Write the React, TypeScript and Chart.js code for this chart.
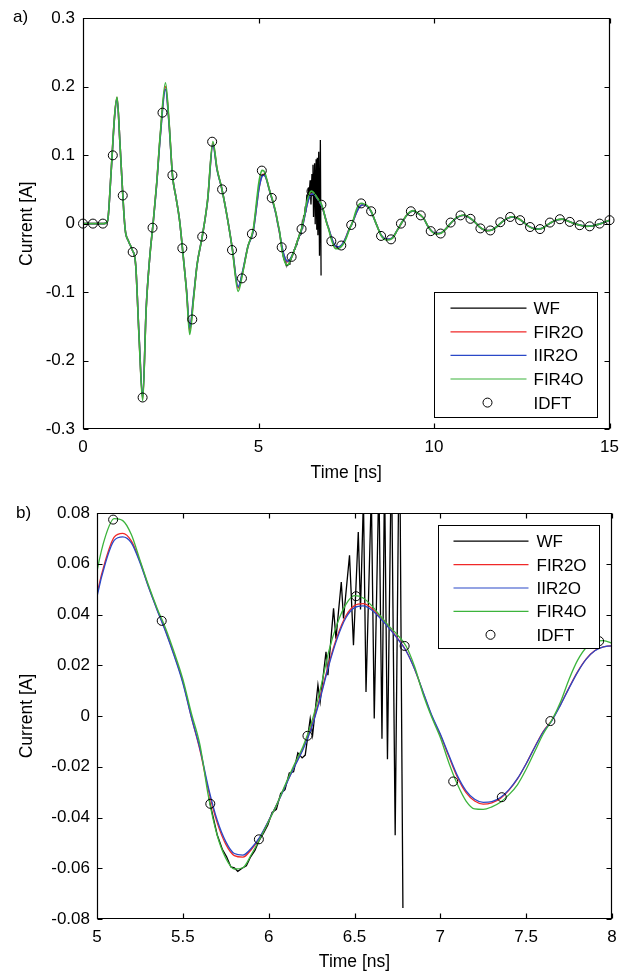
import React, { useEffect, useRef } from 'react';
import { Chart, registerables } from 'chart.js';

Chart.register(...registerables);

const FONT = "'Liberation Sans', Arial, Helvetica, sans-serif";

// ---------- data (time in ns, current in A) ----------
const tCurve = [
  0, 0.3, 0.6, 0.7, 0.8, 0.9, 0.97, 1.05, 1.13, 1.2,
  1.3, 1.4, 1.5, 1.6, 1.7, 1.8, 1.9, 2.0, 2.1, 2.2,
  2.35, 2.45, 2.55, 2.65, 2.75, 2.85, 2.95, 3.04, 3.15, 3.25,
  3.4, 3.55, 3.7, 3.82, 3.95, 4.1, 4.25, 4.42, 4.55, 4.7,
  4.85, 4.95, 5.0, 5.05, 5.1, 5.15, 5.2, 5.25, 5.3, 5.35,
  5.4, 5.45, 5.5, 5.55, 5.6, 5.65, 5.7, 5.75, 5.8, 5.85,
  5.9, 5.95, 6.0, 6.05, 6.1, 6.15, 6.2, 6.25, 6.3, 6.35,
  6.4, 6.45, 6.5, 6.55, 6.6, 6.65, 6.7, 6.75, 6.8, 6.85,
  6.9, 6.95, 7.0, 7.05, 7.1, 7.15, 7.2, 7.25, 7.3, 7.35,
  7.4, 7.45, 7.5, 7.55, 7.6, 7.65, 7.7, 7.75, 7.8, 7.85,
  7.9, 7.95, 8.0, 8.1, 8.2, 8.35, 8.5, 8.65, 8.8, 8.95,
  9.1, 9.25, 9.4, 9.55, 9.7, 9.85, 10.05, 10.2, 10.35, 10.5,
  10.65, 10.85, 11.0, 11.15, 11.3, 11.5, 11.65, 11.8, 11.95, 12.1,
  12.25, 12.4, 12.55, 12.7, 12.9, 13.05, 13.2, 13.35, 13.5, 13.65,
  13.8, 13.95, 14.1, 14.35, 14.5, 14.65, 14.8, 15.0,
];

const fir4o = [
  0, 0, 0, 0.004, 0.075, 0.158, 0.185, 0.12, 0.045, -0.008,
  -0.026, -0.038, -0.06, -0.17, -0.259, -0.125, -0.05, 0.002, 0.06, 0.13,
  0.2057, 0.15, 0.07, 0.038, 0.005, -0.045, -0.1, -0.162, -0.11, -0.06,
  -0.018, 0.035, 0.12, 0.08, 0.052, 0.012, -0.036, -0.099, -0.072, -0.033,
  -0.008, 0.035, 0.057, 0.071, 0.0778, 0.077, 0.0715, 0.0615, 0.0515, 0.0425,
  0.0345, 0.025, 0.0145, 0.001, -0.0115, -0.032, -0.047, -0.056, -0.0603, -0.0598,
  -0.0545, -0.0483, -0.0415, -0.0345, -0.0265, -0.019, -0.012, -0.0025, 0.0102, 0.0255,
  0.0365, 0.044, 0.0474, 0.0465, 0.0435, 0.0395, 0.0355, 0.032, 0.0276, 0.0195,
  0.0085, -0.0005, -0.0085, -0.0185, -0.027, -0.0335, -0.0366, -0.0368, -0.0358, -0.034,
  -0.031, -0.027, -0.021, -0.014, -0.007, -0.0016, 0.0055, 0.0145, 0.022, 0.027,
  0.0293, 0.0297, 0.0287, 0.026, 0.019, 0.0, -0.018, -0.024, -0.022, -0.01,
  0.003, 0.014, 0.019, 0.015, 0.008, -0.006, -0.015, -0.014, -0.007, 0.002,
  0.009, 0.0125, 0.009, 0.003, -0.005, -0.0105, -0.0095, -0.004, 0.003, 0.008,
  0.01, 0.0075, 0.002, -0.004, -0.008, -0.0075, -0.003, 0.002, 0.0055, 0.0065,
  0.004, 0.001, -0.0015, -0.004, -0.0035, -0.0015, 0.001, 0.005,
];

const fir2o = [
  0, 0, 0, 0.004, 0.075, 0.157, 0.184, 0.12, 0.045, -0.008,
  -0.026, -0.038, -0.06, -0.168, -0.256, -0.124, -0.05, 0.002, 0.059, 0.128,
  0.2, 0.148, 0.07, 0.038, 0.005, -0.045, -0.098, -0.156, -0.108, -0.06,
  -0.018, 0.034, 0.117, 0.079, 0.052, 0.012, -0.035, -0.094, -0.07, -0.033,
  -0.01, 0.028, 0.048, 0.0615, 0.0705, 0.072, 0.069, 0.061, 0.051, 0.042,
  0.0335, 0.024, 0.0135, -0.0005, -0.0135, -0.0295, -0.042, -0.0505, -0.055, -0.0556,
  -0.0525, -0.0478, -0.0413, -0.0345, -0.027, -0.0198, -0.0128, -0.004, 0.0075, 0.0205,
  0.0315, 0.0395, 0.0435, 0.0443, 0.0425, 0.039, 0.035, 0.0307, 0.0258, 0.0185,
  0.0092, 0.0, -0.0075, -0.016, -0.0242, -0.0302, -0.0335, -0.0347, -0.0342, -0.0325,
  -0.0292, -0.0247, -0.0188, -0.0122, -0.006, -0.0016, 0.0045, 0.0112, 0.0175, 0.0225,
  0.0258, 0.0272, 0.0276, 0.025, 0.0185, 0.0, -0.0175, -0.023, -0.0215, -0.01,
  0.003, 0.0138, 0.0185, 0.0148, 0.008, -0.006, -0.0145, -0.0137, -0.007, 0.002,
  0.0088, 0.0122, 0.0088, 0.003, -0.005, -0.0102, -0.0093, -0.004, 0.003, 0.0078,
  0.0098, 0.0074, 0.002, -0.004, -0.0078, -0.0074, -0.003, 0.002, 0.0054, 0.0064,
  0.004, 0.001, -0.0015, -0.0039, -0.0034, -0.0015, 0.001, 0.0048,
];

const iir2o = [
  0, 0, 0, 0.004, 0.074, 0.156, 0.183, 0.12, 0.045, -0.008,
  -0.026, -0.038, -0.06, -0.167, -0.254, -0.123, -0.05, 0.002, 0.058, 0.126,
  0.196, 0.146, 0.07, 0.038, 0.005, -0.045, -0.097, -0.152, -0.106, -0.06,
  -0.018, 0.034, 0.115, 0.078, 0.052, 0.012, -0.035, -0.092, -0.069, -0.033,
  -0.011, 0.027, 0.047, 0.0605, 0.0692, 0.0706, 0.0682, 0.0605, 0.0508, 0.0418,
  0.0332, 0.0236, 0.013, -0.0005, -0.013, -0.0285, -0.041, -0.0495, -0.0542, -0.0548,
  -0.052, -0.0475, -0.0412, -0.0345, -0.0272, -0.02, -0.0132, -0.0046, 0.0068, 0.0198,
  0.0307, 0.0387, 0.0427, 0.0434, 0.0418, 0.0385, 0.0347, 0.0305, 0.0257, 0.0185,
  0.0094, 0.0003, -0.0071, -0.0155, -0.0236, -0.0295, -0.0328, -0.034, -0.0337, -0.0321,
  -0.029, -0.0246, -0.0188, -0.0123, -0.0062, -0.0018, 0.0043, 0.011, 0.0173, 0.0224,
  0.0257, 0.0272, 0.0276, 0.025, 0.0184, 0.0, -0.0174, -0.0228, -0.0213, -0.01,
  0.003, 0.0137, 0.0183, 0.0147, 0.008, -0.006, -0.0143, -0.0136, -0.007, 0.002,
  0.0087, 0.0121, 0.0087, 0.003, -0.005, -0.0101, -0.0092, -0.004, 0.003, 0.0077,
  0.0097, 0.0073, 0.002, -0.004, -0.0077, -0.0073, -0.003, 0.002, 0.0053, 0.0063,
  0.004, 0.001, -0.0015, -0.0038, -0.0033, -0.0015, 0.001, 0.0047,
];

// WF (hidden under FIR4O up to ~5.7 ns, then ripples and diverges)
const tWF = [
  5.65, 5.7, 5.73,
  5.755, 5.78, 5.8, 5.82, 5.845, 5.87, 5.895, 5.92, 5.945, 5.97,
  5.995, 6.02, 6.045, 6.07, 6.095, 6.12, 6.145, 6.17, 6.195, 6.213,
  6.242, 6.256, 6.287, 6.3, 6.334, 6.345, 6.378, 6.392, 6.423, 6.436,
  6.471, 6.494, 6.522, 6.535, 6.552, 6.567, 6.598, 6.615, 6.642, 6.66,
  6.675, 6.692, 6.715, 6.737, 6.762, 6.782,
];
const wf = [
  -0.032, -0.0468, -0.0525,
  -0.0555, -0.0595, -0.0598, -0.0612, -0.06, -0.059, -0.0555, -0.053, -0.049, -0.0462,
  -0.043, -0.038, -0.0368, -0.0305, -0.029, -0.0225, -0.022, -0.0145, -0.0165, -0.0154,
  -0.001, -0.0075, 0.0122, 0.0056, 0.0253, 0.0161, 0.0424, 0.0305, 0.0528, 0.0384,
  0.0633, 0.0279, 0.0725, 0.042, 0.086, 0.0095, 0.088, -0.001, 0.094, -0.009,
  0.096, -0.017, 0.105, -0.047, 0.122, -0.0757,
];

const tIDFT = [
  0, 0.283, 0.566, 0.849, 1.132, 1.415, 1.698, 1.981, 2.264, 2.547,
  2.83, 3.113, 3.396, 3.679, 3.962, 4.245, 4.528, 4.811, 5.094, 5.377,
  5.66, 5.943, 6.226, 6.509, 6.792, 7.075, 7.358, 7.641, 7.925, 8.208,
  8.491, 8.774, 9.057, 9.34, 9.623, 9.906, 10.189, 10.472, 10.755, 11.038,
  11.321, 11.604, 11.887, 12.17, 12.453, 12.736, 13.019, 13.302, 13.585, 13.868,
  14.151, 14.434, 14.717, 15.0,
];
const idft = [
  0, 0, 0, 0.0997, 0.041, -0.0415, -0.254, -0.006, 0.162, 0.0707,
  -0.036, -0.14, -0.019, 0.1196, 0.05, -0.0386, -0.08, -0.015, 0.0774, 0.0375,
  -0.0346, -0.0486, -0.0078, 0.0472, 0.0276, -0.0258, -0.032, -0.002, 0.0295, 0.018,
  -0.018, -0.023, 0.0, 0.018, 0.012, -0.011, -0.0145, 0.0015, 0.012, 0.007,
  -0.007, -0.01, 0.002, 0.0097, 0.005, -0.005, -0.008, 0.0015, 0.0064, 0.0025,
  -0.0023, -0.004, 0.0, 0.005,
];

const seriesLabels = ['WF', 'FIR2O', 'IIR2O', 'FIR4O', 'IDFT'];
const seriesColors = ['#000000', '#f02828', '#2a48c8', '#3cb43c', '#000000'];

const topXTicks = [0, 5, 10, 15];
const topYTicks = [-0.3, -0.2, -0.1, 0, 0.1, 0.2, 0.3];
const botXTicks = [5, 5.5, 6, 6.5, 7, 7.5, 8];
const botYTicks = [-0.08, -0.06, -0.04, -0.02, 0, 0.02, 0.04, 0.06, 0.08];

// ---------- helpers ----------
const fmt = (v: number) => {
  const n = Number(v.toFixed(4));
  return n === 0 ? '0' : String(n);
};

const axesPlugin = {
  id: 'matlabAxes',
  afterDatasetsDraw(chart: any) {
    const { ctx, chartArea: a, scales } = chart;
    const x = scales.x;
    const y = scales.y;
    const L = Math.round(a.left) + 0.5;
    const R = Math.round(a.right) - 0.5;
    const T = Math.round(a.top) + 0.5;
    const B = Math.round(a.bottom) - 0.5;
    const len = 5;
    ctx.save();
    ctx.strokeStyle = '#000';
    ctx.lineWidth = 1.2;
    ctx.beginPath();
    ctx.rect(L, T, R - L, B - T);
    for (const t of x.ticks) {
      const px = Math.round(x.getPixelForValue(t.value)) + 0.5;
      ctx.moveTo(px, B);
      ctx.lineTo(px, B - len);
      ctx.moveTo(px, T);
      ctx.lineTo(px, T + len);
    }
    for (const t of y.ticks) {
      const py = Math.round(y.getPixelForValue(t.value)) + 0.5;
      ctx.moveTo(L, py);
      ctx.lineTo(L + len, py);
      ctx.moveTo(R, py);
      ctx.lineTo(R - len, py);
    }
    ctx.stroke();
    ctx.restore();
  },
  afterDraw(chart: any, _args: any, opts: any) {
    const lg = opts && opts.legend;
    if (!lg) return;
    const { ctx, chartArea: a } = chart;
    const bx = Math.round(a.right - lg.insetX - lg.w) + 0.5;
    const by = Math.round(lg.anchor === 'se' ? a.bottom - lg.insetY - lg.h : a.top + lg.insetY) + 0.5;
    ctx.save();
    ctx.fillStyle = '#ffffff';
    ctx.fillRect(bx, by, lg.w, lg.h);
    ctx.strokeStyle = '#000';
    ctx.lineWidth = 1;
    ctx.strokeRect(bx, by, lg.w, lg.h);
    ctx.font = `17px ${FONT}`;
    ctx.textAlign = 'left';
    ctx.textBaseline = 'alphabetic';
    chart.data.datasets.forEach((ds: any, i: number) => {
      const cy = by + lg.first + i * lg.step;
      if (ds.showLine === false) {
        ctx.beginPath();
        ctx.strokeStyle = ds.pointBorderColor;
        ctx.lineWidth = 1;
        ctx.arc(bx + lg.markX, cy, ds.pointRadius, 0, Math.PI * 2);
        ctx.stroke();
      } else {
        ctx.beginPath();
        ctx.strokeStyle = ds.borderColor;
        ctx.lineWidth = 1.2;
        ctx.moveTo(bx + lg.lineX0, cy);
        ctx.lineTo(bx + lg.lineX1, cy);
        ctx.stroke();
      }
      ctx.fillStyle = '#000';
      ctx.fillText(ds.label, bx + lg.textX, cy + 6);
    });
    ctx.restore();
  },
};

type PanelSpec = {
  height: number;
  xMin: number; xMax: number; xTicks: number[];
  yMin: number; yMax: number; yTicks: number[];
  padTop: number; padRight: number;
  yWidth: number; xHeight: number;
  yTickPad: number; xTickPad: number;
  xTitlePad: number; yTitlePad: number;
  lineW: number; wfW: number;
  legend: any;
};

function buildConfig(p: PanelSpec): any {
  const curve = (vals: number[]) => tCurve.map((t, i) => ({ x: t, y: vals[i] }));
  const lineBase = { pointRadius: 0, pointHoverRadius: 0, fill: false };
  return {
    type: 'line',
    data: {
      datasets: [
        { ...lineBase, label: seriesLabels[0], data: tWF.map((t, i) => ({ x: t, y: wf[i] })), borderColor: seriesColors[0], borderWidth: p.wfW, tension: 0, order: 5 },
        { ...lineBase, label: seriesLabels[1], data: curve(fir2o), borderColor: seriesColors[1], borderWidth: p.lineW, cubicInterpolationMode: 'monotone', order: 4 },
        { ...lineBase, label: seriesLabels[2], data: curve(iir2o), borderColor: seriesColors[2], borderWidth: p.lineW, cubicInterpolationMode: 'monotone', order: 3 },
        { ...lineBase, label: seriesLabels[3], data: curve(fir4o), borderColor: seriesColors[3], borderWidth: p.lineW, cubicInterpolationMode: 'monotone', order: 2 },
        {
          label: seriesLabels[4], data: tIDFT.map((t, i) => ({ x: t, y: idft[i] })), showLine: false,
          pointRadius: 4.5, pointHoverRadius: 4.5, pointStyle: 'circle', pointBorderColor: seriesColors[4],
          pointBackgroundColor: 'rgba(0,0,0,0)', pointBorderWidth: 1, borderColor: seriesColors[4], order: 1, clip: 8,
        },
      ],
    },
    options: {
      responsive: false,
      maintainAspectRatio: false,
      animation: false,
      devicePixelRatio: 1,
      events: [],
      layout: { padding: { top: p.padTop, right: p.padRight, bottom: 0, left: 0 } },
      plugins: {
        legend: { display: false },
        tooltip: { enabled: false },
        matlabAxes: { legend: p.legend },
      },
      scales: {
        x: {
          type: 'linear', min: p.xMin, max: p.xMax,
          grid: { display: false, drawTicks: false },
          border: { display: false },
          afterBuildTicks: (s: any) => { s.ticks = p.xTicks.map((v) => ({ value: v })); },
          afterFit: (s: any) => { s.height = p.xHeight; },
          ticks: { autoSkip: false, maxRotation: 0, padding: p.xTickPad, color: '#000', font: { family: FONT, size: 17 }, callback: (v: any) => fmt(Number(v)) },
          title: { display: true, text: 'Time [ns]', color: '#000', font: { family: FONT, size: 17.5 }, padding: { top: 0, bottom: p.xTitlePad } },
        },
        y: {
          type: 'linear', min: p.yMin, max: p.yMax,
          grid: { display: false, drawTicks: false },
          border: { display: false },
          afterBuildTicks: (s: any) => { s.ticks = p.yTicks.map((v) => ({ value: v })); },
          afterFit: (s: any) => { s.width = p.yWidth; },
          ticks: { autoSkip: false, padding: p.yTickPad, color: '#000', font: { family: FONT, size: 17 }, callback: (v: any) => fmt(Number(v)) },
          title: { display: true, text: 'Current [A]', color: '#000', font: { family: FONT, size: 17.5 }, padding: { top: p.yTitlePad, bottom: 0 } },
        },
      },
    },
    plugins: [axesPlugin],
  };
}

const topSpec: PanelSpec = {
  height: 490,
  xMin: 0, xMax: 15, xTicks: topXTicks,
  yMin: -0.3, yMax: 0.3, yTicks: topYTicks,
  padTop: 15, padRight: 16, yWidth: 83, xHeight: 61,
  yTickPad: 8, xTickPad: 8, xTitlePad: 6, yTitlePad: 17,
  lineW: 1.6, wfW: 1.3,
  legend: { anchor: 'se', insetX: 13, insetY: 12, w: 163, h: 125, first: 15.7, step: 23.6, lineX0: 16, lineX1: 92, markX: 53, textX: 99 },
};

const botSpec: PanelSpec = {
  height: 484,
  xMin: 5, xMax: 8, xTicks: botXTicks,
  yMin: -0.08, yMax: 0.08, yTicks: botYTicks,
  padTop: 23, padRight: 15, yWidth: 97, xHeight: 55,
  yTickPad: 7, xTickPad: 8, xTitlePad: 1, yTitlePad: 17,
  lineW: 1.3, wfW: 1.3,
  legend: { anchor: 'ne', insetX: 13, insetY: 12, w: 161, h: 123, first: 15.7, step: 23.4, lineX0: 15, lineX1: 90, markX: 52, textX: 98 },
};

function Panel({ spec, top }: { spec: PanelSpec; top: number }) {
  const ref = useRef<HTMLCanvasElement>(null);
  useEffect(() => {
    const chart = new Chart(ref.current as HTMLCanvasElement, buildConfig(spec));
    return () => chart.destroy();
  }, [spec]);
  return (
    <canvas
      ref={ref}
      width={627}
      height={spec.height}
      style={{ position: 'absolute', left: 0, top, width: 627, height: spec.height, display: 'block' }}
    />
  );
}

const labelStyle: React.CSSProperties = {
  position: 'absolute', fontFamily: FONT, fontSize: 17, lineHeight: '17px', color: '#000', margin: 0,
};

export default function App() {
  return (
    <div style={{ position: 'fixed', left: 0, top: 0, width: 627, height: 974, background: '#fff', overflow: 'hidden' }}>
      <Panel spec={topSpec} top={0} />
      <Panel spec={botSpec} top={490} />
      <div style={{ ...labelStyle, left: 13, top: 8 }}>a)</div>
      <div style={{ ...labelStyle, left: 16, top: 504 }}>b)</div>
    </div>
  );
}
